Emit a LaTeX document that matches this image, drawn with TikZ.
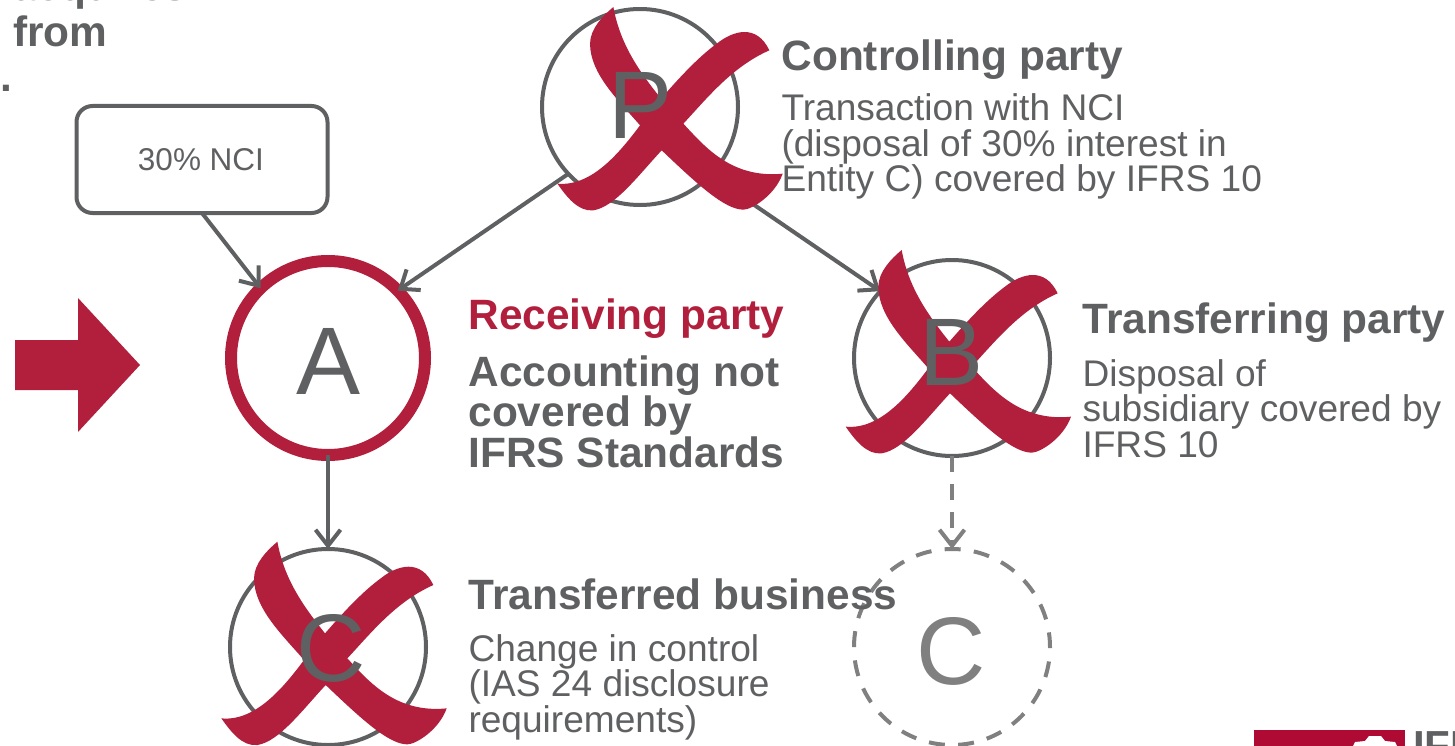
\documentclass[tikz,border=0pt]{standalone}
\usepackage{fontspec}
\setmainfont{Liberation Sans}
\usetikzlibrary{arrows.meta}
\definecolor{ink}{HTML}{5F6062}
\definecolor{dashink}{HTML}{808080}
\definecolor{crimson}{HTML}{B21F3C}
\definecolor{logored}{HTML}{AF0A33}
\newcommand{\crossmark}[1]{%
  \fill[crimson,shift={(#1)},x=0.3333pt,y=-0.3333pt]
    (-145,-300) .. controls (-125,-190) and (-70,-110) .. (-2,-25)
    .. controls (50,-85) and (110,-150) .. (165,-190)
    .. controls (215,-230) and (285,-250) .. (323,-170)
    .. controls (210,-120) and (135,-25) .. (65,50)
    .. controls (130,120) and (210,215) .. (363,200)
    .. controls (340,265) and (270,308) .. (245,308)
    .. controls (190,308) and (110,235) .. (0,130)
    .. controls (-70,205) and (-140,300) .. (-205,310)
    .. controls (-250,315) and (-285,270) .. (-313,230)
    .. controls (-210,240) and (-125,135) .. (-65,55)
    .. controls (-130,-20) and (-215,-100) .. (-215,-190)
    .. controls (-215,-235) and (-175,-275) .. (-145,-300) -- cycle;}
\tikzset{
  every node/.style={inner sep=0pt,outer sep=0pt},
  entity/.style={circle,draw=ink,line width=4pt,minimum size=196pt},
  letter/.style={text=ink,font=\fontsize{96}{96}\selectfont,anchor=base},
  head/.style={text=ink,font=\fontsize{42.4}{42}\bfseries\selectfont,anchor=base west},
  headred/.style={head,text=crimson},
  body/.style={text=ink,font=\fontsize{37.1}{35.5}\selectfont,anchor=base west,align=left},
  bodybold/.style={text=ink,font=\fontsize{42.4}{40.5}\bfseries\selectfont,anchor=base west,align=left},
  conn/.style={draw=ink,line width=4pt,-{Straight Barb[length=16pt,width=25pt]}},
  connd/.style={draw=dashink,line width=4pt,dash pattern=on 16pt off 12pt,-{Straight Barb[length=16pt,width=25pt]}}
}
\begin{document}
\begin{tikzpicture}[x=1pt,y=-1pt]
\useasboundingbox (0,0) rectangle (1455,746);
% left clipped text
\node[head] (t1) at (13,1) {acquires};
\node[head] (t2) at (13,47) {from};
\node[head] (t3) at (0,92) {.};
% big arrow
\fill[crimson] (15,340) -- (78,340) -- (78,298) -- (140,365) -- (78,432) -- (78,390) -- (15,390) -- cycle;
% NCI box
\node[draw=ink,line width=4pt,rounded corners=16pt,minimum width=251pt,minimum height=107pt,text=ink,font=\fontsize{31.5}{32}\selectfont] (nci) at (202,159.5) {\hspace*{-2pt}30\% NCI};
% entities
\node[entity] (P) at (640,107) {};
\node[entity,draw=crimson,line width=12pt,minimum size=194pt] (A) at (328,358) {};
\node[entity] (B) at (952,358) {};
\node[entity] (C1) at (328,647) {};
\node[entity,draw=dashink,dash pattern=on 16pt off 13.33pt,dash phase=1.33pt] (C2) at (952,647) {};
% connectors
\draw[conn] (P.223) -- (A.44);
\draw[conn] (P.-44) -- (B.137);
\draw[conn] (nci.south) -- (A.134);
\draw[conn] (A.south) -- (C1.north);
\draw[connd] (B.south) -- (C2.north);
% crosses
\crossmark{661.7,107}
\crossmark{950,350}
\crossmark{325.7,641.7}
% letters
\node[letter] (lP) at (641,139) {P};
\node[letter] (lA) at (328.5,394) {A};
\node[letter] (lB) at (952,385) {B};
\node[letter] (lC1) at (331,681) {C};
\node[letter,text=dashink] (lC2) at (951,684) {C};
% texts
\node[head] (h1) at (781.5,71) {Controlling party};
\node[body] (b1) at (781.5,192) {Transaction with NCI\\(disposal of 30\% interest in\\Entity C) covered by IFRS 10};
\node[headred] (h2) at (468.5,329) {Receiving party};
\node[bodybold] (b2) at (468.5,467) {Accounting not\\covered by\\IFRS Standards};
\node[head] (h3) at (1082.5,333) {Transferring party};
\node[body] (b3) at (1082.5,457) {Disposal of\\subsidiary covered by\\IFRS 10};
\node[head] (h4) at (468.5,609) {Transferred business};
\node[body] (b4) at (468.5,732) {Change in control\\(IAS 24 disclosure\\requirements)};
% logo
\fill[logored] (1254,730) rectangle (1405,746);
\fill[white] (1353,746) -- (1355,742) -- (1365,741) -- (1369,736) -- (1381,736) -- (1385,741) -- (1395,742) -- (1397,746) -- cycle;
\node[text=ink,font=\fontsize{42}{42}\bfseries\selectfont,anchor=base west] (logo) at (1413,760) {IFRS};
\end{tikzpicture}
\end{document}
